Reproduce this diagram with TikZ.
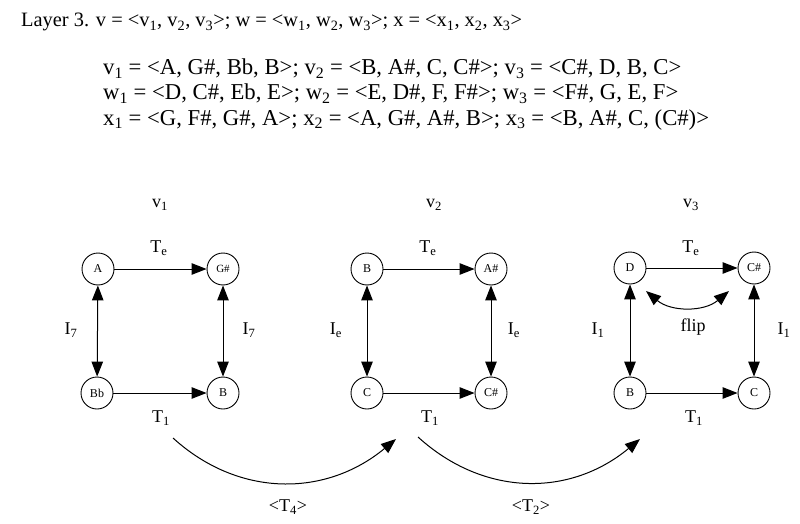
\documentclass[tikz,border=0pt]{standalone}
\usepackage{fontspec}
\setmainfont{Liberation Serif}
\usetikzlibrary{arrows.meta,calc}
\newcommand{\sbx}[1]{\textsubscript{#1}}
\begin{document}
\begin{tikzpicture}[x=1pt,y=-1pt,
 pc/.style={circle,draw,line width=0.9pt,minimum size=32pt,inner sep=0pt,font=\fontsize{12}{13}\selectfont},
 lab/.style={font=\fontsize{18}{20}\selectfont,inner sep=0pt},
 txt/.style={anchor=base west,inner sep=0pt,font=\fontsize{22.7}{26}\selectfont},
 arr/.style={line width=1pt,-{Triangle[length=15pt,width=11.5pt]}},
 darr/.style={line width=1pt,{Triangle[length=15pt,width=11.5pt]}-{Triangle[length=15pt,width=11.5pt]}}]
\useasboundingbox (0,0) rectangle (800,524);

% header text
\node[txt,font=\fontsize{20.4}{24}\selectfont] (h0) at (21,27) {Layer 3. v = <v\sbx{1}, v\sbx{2}, v\sbx{3}>; w = <w\sbx{1}, w\sbx{2}, w\sbx{3}>; x = <x\sbx{1}, x\sbx{2}, x\sbx{3}>};
\node[txt] (h1) at (103,75) {v\sbx{1} = <A, G\#, Bb, B>; v\sbx{2} = <B, A\#, C, C\#>; v\sbx{3} = <C\#, D, B, C>};
\node[txt] (h2) at (103,100) {w\sbx{1} = <D, C\#, Eb, E>; w\sbx{2} = <E, D\#, F, F\#>; w\sbx{3} = <F\#, G, E, F>};
\node[txt] (h3) at (103,125) {x\sbx{1} = <G, F\#, G\#, A>; x\sbx{2} = <A, G\#, A\#, B>; x\sbx{3} = <B, A\#, C, (C\#)>};

% v1
\node[lab] (lv1) at (160,205) {v\sbx{1}};
\node[pc] (a1) at (98,269) {A};
\node[pc,font=\fontsize{11}{12}\selectfont] (b1) at (223,269) {G\#};
\node[pc] (c1) at (97,393) {Bb};
\node[pc] (d1) at (223,393) {B};
\draw[arr] (a1) -- (b1);
\draw[arr] (c1) -- (d1);
\draw[darr] (a1) -- (c1);
\draw[darr] (b1) -- (d1);
\node[lab] (te1) at (159,248) {T\sbx{e}};
\node[lab] (t11) at (161,418) {T\sbx{1}};
\node[lab] (i71) at (71,330) {I\sbx{7}};
\node[lab] (i72) at (249,330) {I\sbx{7}};

% v2
\node[lab] (lv2) at (434,205) {v\sbx{2}};
\node[pc] (a2) at (367,269) {B};
\node[pc] (b2) at (491,269) {A\#};
\node[pc] (c2) at (367,393) {C};
\node[pc] (d2) at (491,393) {C\#};
\draw[arr] (a2) -- (b2);
\draw[arr] (c2) -- (d2);
\draw[darr] (a2) -- (c2);
\draw[darr] (b2) -- (d2);
\node[lab] (te2) at (428,248) {T\sbx{e}};
\node[lab] (t12) at (430,418) {T\sbx{1}};
\node[lab] (ie1) at (336,330) {I\sbx{e}};
\node[lab] (ie2) at (514,330) {I\sbx{e}};

% v3
\node[lab] (lv3) at (691,205) {v\sbx{3}};
\node[pc] (a3) at (630,268) {D};
\node[pc] (b3) at (754,268) {C\#};
\node[pc] (c3) at (630,393) {B};
\node[pc] (d3) at (754,393) {C};
\draw[arr] (a3) -- (b3);
\draw[arr] (c3) -- (d3);
\draw[darr] (a3) -- (c3);
\draw[darr] (b3) -- (d3);
\node[lab] (te3) at (691,248) {T\sbx{e}};
\node[lab] (t13) at (694,418) {T\sbx{1}};
\node[lab] (i11) at (598,330) {I\sbx{1}};
\node[lab] (i12) at (784,330) {I\sbx{1}};
\node[lab] (flip) at (693,327) {flip};
\coordinate (f1) at (646,291);
\coordinate (f2) at (729,291);
\draw[darr] (f1) .. controls ($(f1)+(25,21)$) and ($(f2)+(-25,21)$) .. (f2);

% bottom arcs
\coordinate (s1) at (173,438);
\coordinate (e1) at (396,439);
\coordinate (s2) at (418,437);
\coordinate (e2) at (640,439);
\draw[arr] (s1) .. controls ($(s1)+(66,60)$) and ($(e1)+(-70,58)$) .. (e1);
\draw[arr] (s2) .. controls ($(s2)+(66,60)$) and ($(e2)+(-70,58)$) .. (e2);
\node[lab] (t4) at (288,507) {<T\sbx{4}>};
\node[lab] (t2) at (531,507) {<T\sbx{2}>};
\end{tikzpicture}
\end{document}
